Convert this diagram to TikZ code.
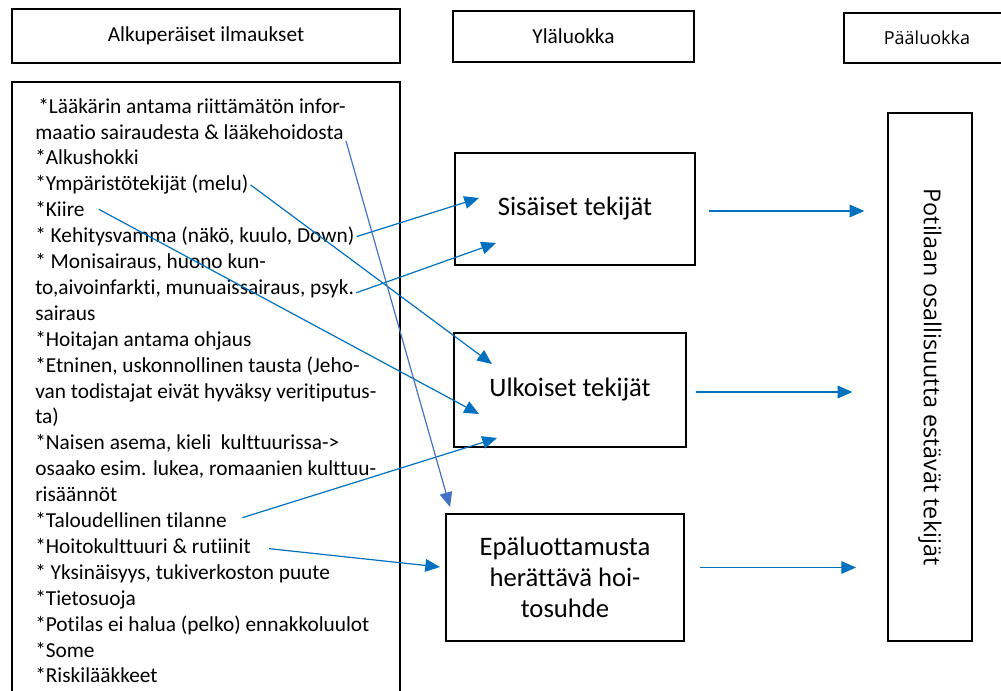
\documentclass[tikz,border=0pt]{standalone}
\usepackage{fontspec}
\setmainfont{Carlito}[Ligatures={TeX,NoCommon}]
\newfontfamily\segoe{Open Sans}
\usetikzlibrary{arrows.meta,positioning}
\definecolor{linkblue}{HTML}{0070C0}
\definecolor{longblue}{HTML}{4472C4}

\begin{document}
\begin{tikzpicture}[x=0.75pt, y=-0.75pt,
    box/.style={draw=black, line width=2pt, inner sep=0pt, align=center},
    header/.style={box, font=\fontsize{16}{19.5}\selectfont},
    catbox/.style={box, font=\fontsize{20}{23.5}\selectfont},
    item/.style={anchor=mid west, inner sep=1.5pt, font=\fontsize{16}{19.5}\selectfont},
    link/.style={-{Triangle[length=11pt, width=9.5pt]}, linkblue, line width=0.9pt}
]
\useasboundingbox (0,0) rectangle (1001,691);

% otsikot
\node[header, minimum width=291pt, minimum height=40.5pt] (hdrA) at (206,36) {Alkuperäiset ilmaukset};
\node[header, minimum width=180.75pt, minimum height=38.25pt] (hdrB) at (573.5,36.5) {Yläluokka};
\node[box, minimum width=124.5pt, minimum height=37.5pt, font=\segoe\fontsize{13.5}{16}\selectfont] (hdrC) at (927,38) {Pääluokka};

% alkuperäiset ilmaukset
\node[box, minimum width=291pt, minimum height=471pt] (orig) at (206,396) {};
\node[item] (r1) at (36,110) {*Lääkärin antama riittämätön infor-};
\node[item] (r2) at (33,135.9) {maatio sairaudesta \& lääkehoidosta};
\node[item] (r3) at (33,161.8) {*Alkushokki};
\node[item] (r4) at (33,187.7) {*Ympäristötekijät (melu)};
\node[item] (r5) at (33,213.6) {*Kiire};
\node[item] (r6) at (33,239.5) {* Kehitysvamma (näkö, kuulo, Down)};
\node[item] (r7) at (33,265.4) {* Monisairaus, huono kun-};
\node[item] (r8) at (33,291.3) {to,aivoinfarkti, munuaissairaus, psyk.};
\node[item] (r9) at (33,317.2) {sairaus};
\node[item] (r10) at (33,343.1) {*Hoitajan antama ohjaus};
\node[item] (r11) at (33,369) {*Etninen, uskonnollinen tausta (Jeho-};
\node[item] (r12) at (33,394.9) {van todistajat eivät hyväksy veritiputus-};
\node[item] (r13) at (33,420.8) {ta)};
\node[item] (r14) at (33,446.7) {*Naisen asema, kieli\ \ kulttuurissa->};
\node[item] (r15) at (33,472.6) {osaako esim. lukea, romaanien kulttuu-};
\node[item] (r16) at (33,498.5) {risäännöt};
\node[item] (r17) at (33,524.4) {*Taloudellinen tilanne};
\node[item] (r18) at (33,550.3) {*Hoitokulttuuri \& rutiinit};
\node[item] (r19) at (33,576.2) {* Yksinäisyys, tukiverkoston puute};
\node[item] (r20) at (33,602.1) {*Tietosuoja};
\node[item] (r21) at (33,628) {*Potilas ei halua (pelko) ennakkoluulot};
\node[item] (r22) at (33,653.9) {*Some};
\node[item] (r23) at (33,679.8) {*Riskilääkkeet};

% yläluokat
\node[catbox, minimum width=180pt, minimum height=84pt] (sis) at (575,209) {Sisäiset tekijät};
\node[catbox, minimum width=174pt, minimum height=85.5pt] (ulk) at (570,390) {Ulkoiset tekijät};
\node[catbox, minimum width=178.5pt, minimum height=95.25pt] (epa) at (565,577.5) {Epäluottamusta\\herättävä hoi-\\tosuhde};

% pääluokka
\node[box, minimum width=63pt, minimum height=396pt] (main) at (930,377) {};
\node[rotate=-90, font=\segoe\fontsize{17.5}{21}\selectfont] (mainlabel) at (main.center) {Potilaan osallisuutta estävät tekijät};

% nuolten kärjet
\coordinate (sisA) at (479,198);
\coordinate (sisB) at (496,243);
\coordinate (ulkA) at (492,364);
\coordinate (ulkB) at (479,414);
\coordinate (ulkC) at (497,438);
\coordinate (epaA) at (440,567);
\coordinate (epaB) at (450,507);

\draw[link] (r6.east) -- (sisA);
\draw[link] ([yshift=-3pt]r8.east) -- (sisB);
\draw[link] (r4.east) -- (ulkA);
\draw[link] ([xshift=9pt]r5.east) -- (ulkB);
\draw[link] ([xshift=10pt,yshift=1.8pt]r17.east) -- (ulkC);
\draw[link] ([xshift=12pt,yshift=-2pt]r18.east) -- (epaA);
\draw[link, longblue] ([yshift=-7pt]r2.east) -- (epaB);

% yläluokista pääluokkaan
\draw[link] ([xshift=9.75pt,yshift=-1.5pt]sis.east) -- ++(155,0);
\draw[link] ([xshift=6.75pt,yshift=-1.5pt]ulk.east) -- ++(156,0);
\draw[link] ([xshift=11pt,yshift=7.5pt]epa.east) -- ++(156,0);

\end{tikzpicture}
\end{document}
